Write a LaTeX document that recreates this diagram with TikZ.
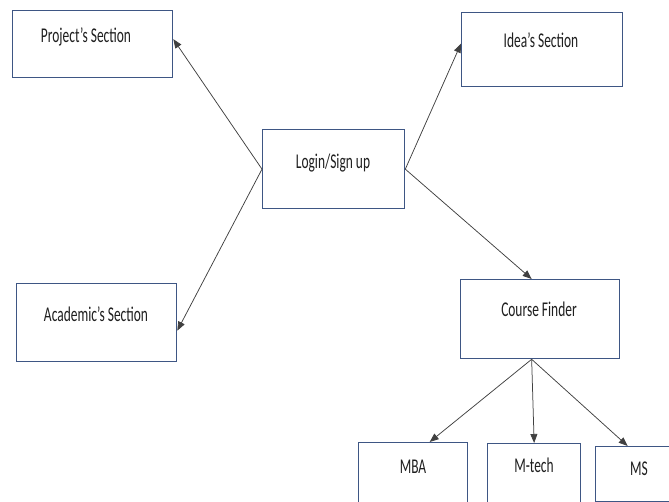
\documentclass[tikz,border=0pt]{standalone}
\usepackage{fontspec}
\setmainfont[FakeStretch=0.64]{Carlito}
\usetikzlibrary{arrows.meta}
\definecolor{boxblue}{RGB}{62,86,132}
\begin{document}
\begin{tikzpicture}[x=1pt,y=-1pt,
  box/.style={draw=boxblue, line width=1.3pt, fill=white, anchor=north west, inner sep=0pt},
  lbl/.style={font=\fontsize{21}{24}\selectfont, text=black!88, inner sep=0pt, anchor=base},
  conn/.style={draw=black!75, line width=0.75pt, -{Triangle[length=9pt,width=7pt]}}]
\useasboundingbox (0,0) rectangle (669,502);
\clip (0,0) rectangle (669,502);
% boxes
\node[box, minimum width=160pt, minimum height=67pt] (proj) at (12,10) {};
\node[box, minimum width=161pt, minimum height=74pt] (idea) at (461,12) {};
\node[box, minimum width=142pt, minimum height=79pt] (login) at (262,129) {};
\node[box, minimum width=160pt, minimum height=78pt] (acad) at (16,283) {};
\node[box, minimum width=159pt, minimum height=79pt] (cf) at (460,279) {};
\node[box, minimum width=109pt, minimum height=90pt] (mba) at (358,442) {};
\node[box, minimum width=93pt, minimum height=90pt] (mtech) at (487,443) {};
\node[box, minimum width=78pt, minimum height=55pt] (ms) at (595,446) {};
% labels
\node[lbl] (tproj) at (86,43) {Project’s Section};
\node[lbl] (tidea) at (541,48) {Idea’s Section};
\node[lbl] (tlogin) at (333,169) {Login/Sign up};
\node[lbl] (tacad) at (96,322) {Academic’s Section};
\node[lbl] (tcf) at (539,317) {Course Finder};
\node[lbl] (tmba) at (413,473) {MBA};
\node[lbl] (tmtech) at (534,472) {M-tech};
\node[lbl] (tms) at (639,475) {MS};
% connectors
\coordinate (cfout) at ([xshift=-8.5pt]cf.south);
\draw[conn] (login.west) -- ([yshift=5pt]proj.east);
\draw[conn] (login.west) -- ([yshift=-8pt]acad.east);
\draw[conn] (login.east) -- ([yshift=6pt]idea.west);
\draw[conn] (login.east) -- ([xshift=-8.5pt]cf.north);
\draw[conn] (cfout) -- ([xshift=16.5pt]mba.north);
\draw[conn] (cfout) -- (mtech.north);
\draw[conn] (cfout) -- ([xshift=-7pt]ms.north);
\end{tikzpicture}
\end{document}
